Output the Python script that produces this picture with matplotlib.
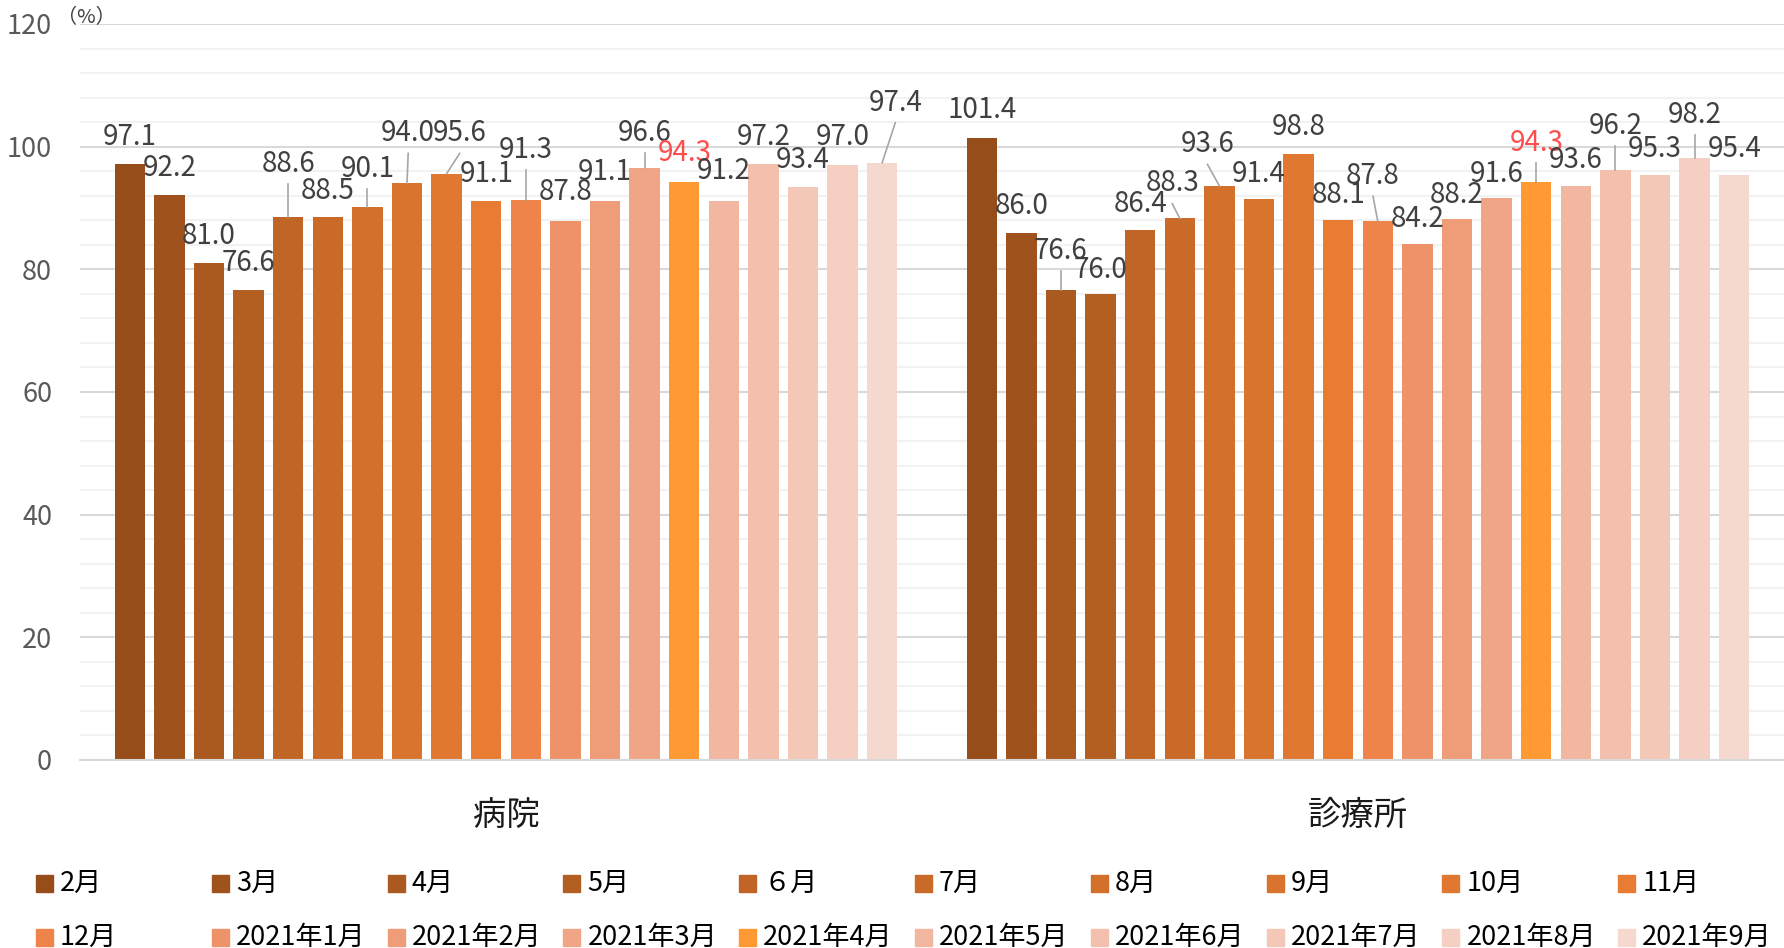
import matplotlib
matplotlib.use("Agg")
import matplotlib.pyplot as plt
from matplotlib.patches import Rectangle
from matplotlib.ticker import MultipleLocator

plt.rcParams['font.family'] = ['Noto Sans CJK JP', 'DejaVu Sans']

# ---------------- data ----------------
categories = ["病院", "診療所"]
series_names = ["2月", "3月", "4月", "5月", "６月", "7月", "8月", "9月", "10月", "11月",
                "12月", "2021年1月", "2021年2月", "2021年3月", "2021年4月",
                "2021年5月", "2021年6月", "2021年7月", "2021年8月", "2021年9月"]
hospital = [97.1, 92.2, 81.0, 76.6, 88.6, 88.5, 90.1, 94.0, 95.6, 91.1,
            91.3, 87.8, 91.1, 96.6, 94.3, 91.2, 97.2, 93.4, 97.0, 97.4]
clinic = [101.4, 86.0, 76.6, 76.0, 86.4, 88.3, 93.6, 91.4, 98.8, 88.1,
          87.8, 84.2, 88.2, 91.6, 94.3, 93.6, 96.2, 95.3, 98.2, 95.4]
colors = ["#974D1A", "#A0521D", "#AA5920", "#B45F22", "#C06525", "#C96A28",
          "#D3702B", "#D9742E", "#E07831", "#E87C33", "#EE8449", "#EE926A",
          "#EF9C79", "#F0A686", "#FF9933", "#F2B7A1", "#F3C0AD", "#F4C8B7",
          "#F5D0C2", "#F6D9CE"]

# label layout (offset in bar pitches, height above bar top, leader line flag)
hosp_dx = [0, 0, 0, 0, 0, 0, 0, 0.03, 0.33, 0, 0, 0, 0, 0, 0, 0, 0, 0, 0, 0.33]
hosp_dy = [4.5, 4.4, 4.5, 4.4, 8.6, 4.3, 6.3, 8.2, 6.6, 4.5,
           8.2, 4.8, 4.8, 5.6, 4.6, 4.8, 4.45, 4.5, 4.65, 9.8]
hosp_lead = [0, 0, 0, 0, 1, 0, 1, 1, 1, 0, 1, 0, 0, 1, 0, 0, 0, 0, 0, 1]
clin_dx = [0, 0, 0, 0, 0, -0.19, -0.3, 0, 0, 0, -0.12, 0, 0, 0, 0, 0, 0, 0, 0, 0]
clin_dy = [4.5, 4.4, 6.4, 3.9, 4.2, 5.7, 6.8, 4.2, 4.4, 4.0,
           7.4, 4.0, 4.0, 3.9, 6.35, 4.2, 7.2, 4.4, 7.0, 4.3]
clin_lead = [0, 0, 1, 0, 0, 1, 1, 0, 0, 0, 1, 0, 0, 0, 1, 0, 1, 0, 1, 0]
red_index = 14

# ---------------- figure ----------------
W, H = 1784, 948
fig = plt.figure(figsize=(W / 100, H / 100), dpi=100)
ax = fig.add_axes([80 / W, 1 - 760 / H, 1 - 80 / W, (760 - 24) / H])

n = len(series_names)
pitch = 0.04648
width = 0.0358
cat_x = list(range(len(categories)))

for k in range(n):
    off = (k - (n - 1) / 2) * pitch
    ax.bar([c + off for c in cat_x], [hospital[k], clinic[k]], width,
           color=colors[k], zorder=2)

for ci, (vals, dxs, dys, leads) in enumerate(
        [(hospital, hosp_dx, hosp_dy, hosp_lead), (clinic, clin_dx, clin_dy, clin_lead)]):
    for k in range(n):
        x = cat_x[ci] + (k - (n - 1) / 2) * pitch
        v = vals[k]
        lx = x + dxs[k] * pitch
        ly = v + dys[k]
        col = "#FF4D4D" if k == red_index else "#404040"
        ax.text(lx, ly, f"{v:.1f}", ha="center", va="center", fontsize=20,
                color=col, zorder=4)
        if leads[k]:
            ax.plot([x, lx], [v, ly - 3.3], color="#A6A6A6", lw=1.2, zorder=3)

ax.set_xlim(-0.5, 1.5)
ax.set_ylim(0, 120)
ax.set_yticks(range(0, 121, 20))
ax.yaxis.set_minor_locator(MultipleLocator(4))
ax.grid(which="major", axis="y", color="#D9D9D9", lw=1.5, zorder=0)
ax.grid(which="minor", axis="y", color="#F2F2F2", lw=1.5, zorder=0)
ax.set_axisbelow(True)
for s in ["top", "right", "left"]:
    ax.spines[s].set_visible(False)
ax.spines["bottom"].set_color("#D9D9D9")
ax.spines["bottom"].set_linewidth(1.5)
ax.set_xticks(cat_x)
ax.set_xticklabels(categories, fontsize=24, color="#1A1A1A")
ax.tick_params(axis="x", length=0, pad=27)
ax.tick_params(axis="y", which="both", length=0, pad=20, labelsize=19.5,
               labelcolor="#595959")

fig.text(86 / W, 1 - 17.5 / H, "（%）", ha="center", va="center", fontsize=14.5,
         color="#404040")

# manual legend (row-major, 10 columns)
for k in range(n):
    row, col = divmod(k, 10)
    mx = 36 + col * 175.8
    my = 883 if row == 0 else 937
    fig.add_artist(Rectangle((mx / W, 1 - (my + 8.5) / H), 17 / W, 17 / H,
                             transform=fig.transFigure, color=colors[k]))
    fig.text((mx + 24) / W, 1 - my / H, series_names[k], ha="left", va="center",
             fontsize=19.5, color="#000000")

fig.savefig("out.png", dpi=100)
